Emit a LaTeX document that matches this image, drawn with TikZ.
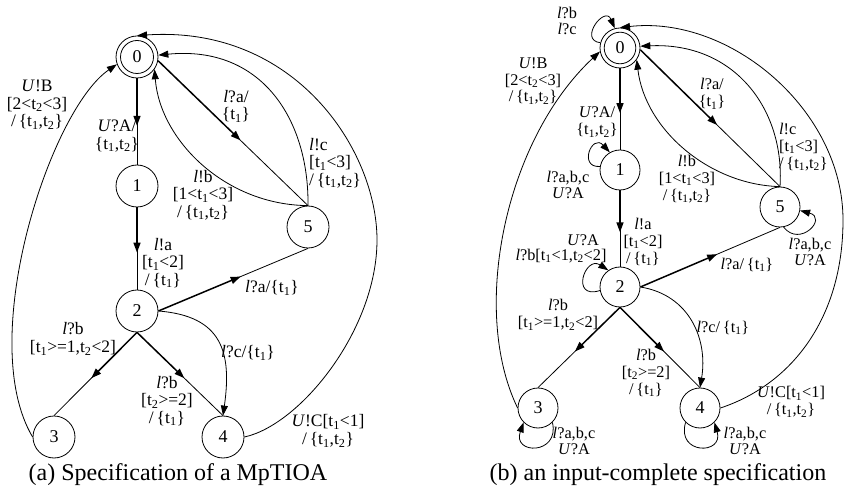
\documentclass[tikz,border=0pt]{standalone}
\usepackage{fontspec}
\setmainfont{Liberation Serif}
\usetikzlibrary{arrows.meta,calc}
\newcommand\sbs[1]{\textsubscript{#1}}
\newcommand\midedge[2]{\draw[tk] (#1) -- ($(#1)!0.55!(#2)$); \draw[ln] ($(#1)!0.5!(#2)$) -- (#2);}
\begin{document}
\begin{tikzpicture}[x=1pt,y=-1pt,
  st/.style={circle,draw,line width=0.8pt,minimum size=42pt,inner sep=0pt,font=\fontsize{18}{18}\selectfont},
  str/.style={st,minimum size=40pt},
  lab/.style={align=center,font=\fontsize{17.5}{17.5}\selectfont,inner sep=0pt},
  labr/.style={align=center,font=\fontsize{16.3}{16.8}\selectfont,inner sep=0pt},
  captxt/.style={font=\fontsize{24}{24}\selectfont,inner sep=0pt},
  ln/.style={line width=0.8pt},
  tk/.style={line width=1.5pt,-{Triangle[length=10pt,width=7pt]}},
  arr/.style={line width=0.8pt,-{Triangle[length=10pt,width=7pt]}}]
\useasboundingbox (0,0) rectangle (846,494);
\fill[white] (0,0) rectangle (846,494);
% ---------- left diagram ----------
\node[st] (a0) at (137,57) {0};
\draw[line width=0.8pt] (a0.center) circle (16.5pt);
\node[st] (a1) at (137,186) {1};
\node[st] (a2) at (137,311) {2};
\node[st] (a3) at (54,437) {3};
\node[st] (a4) at (223,437) {4};
\node[st] (a5) at (308,227) {5};
\midedge{a0.south}{a1.north}
\midedge{a1.south}{a2.north}
\midedge{a2.east}{a5.south}
\midedge{a0.-10}{a5.north}
\midedge{a2.south}{a3.north}
\midedge{a2.south}{a4.north}
\draw[arr] (a2.east) .. controls (222,316) and (232,352) .. (a4.north);
\draw[arr] (a5.north) .. controls (225,205) and (160,140) .. (a0.-35);
\draw[arr] (a5.north) .. controls (309,120) and (262,45) .. (a0.5);
\draw[arr] (a4.east) .. controls (300,425) and (377,330) .. (377,240) .. controls (377,150) and (295,25) .. (a0.north);
\draw[arr] (a3.west) .. controls (-25,340) and (50,110) .. (a0.200);
\node[lab] (la1) at (37,105) {\textit{U}!B\\{[}2<t\sbs2<3{]}\\/\,\{t\sbs1,t\sbs2\}};
\node[lab] (la2) at (117,136) {\textit{U}?A/\\\{t\sbs1,t\sbs2\}};
\node[lab] (la3) at (236,106) {\textit{l}?a/\\\{t\sbs1\}};
\node[lab] (la4) at (203,195) {\textit{l}!b\\{[}1<t\sbs1<3{]}\\/\,\{t\sbs1,t\sbs2\}};
\node[lab] (la5) at (163,263) {\textit{l}!a\\{[}t\sbs1<2{]}\\/\,\{t\sbs1\}};
\node[lab] (la6) at (272,288) {\textit{l}?a/\{t\sbs1\}};
\node[lab,align=left,anchor=west] (la7) at (309,163) {\textit{l}!c\\{[}t\sbs1<3{]}\\/\,\{t\sbs1,t\sbs2\}};
\node[lab] (la8) at (73,339) {\textit{l}?b\\{[}t\sbs1>=1,t\sbs2<2{]}};
\node[lab] (la9) at (167,401) {\textit{l}?b\\{[}t\sbs2>=2{]}\\/\,\{t\sbs1\}};
\node[lab] (la10) at (248,353) {\textit{l}?c/\{t\sbs1\}};
\node[lab] (la11) at (328,431) {\textit{U}!C{[}t\sbs1<1{]}\\/\,\{t\sbs1,t\sbs2\}};
\node[captxt] (capa) at (178,475) {(a) Specification of a MpTIOA};
% ---------- right diagram ----------
\node[str] (b0) at (620,48) {0};
\draw[line width=0.8pt] (b0.center) circle (15.8pt);
\node[str] (b1) at (620,170) {1};
\node[str] (b2) at (620,287) {2};
\node[str] (b3) at (538,408) {3};
\node[str] (b4) at (700,408) {4};
\node[str] (b5) at (780,207) {5};
\midedge{b0.south}{b1.north}
\midedge{b1.south}{b2.north}
\midedge{b2.east}{b5.south}
\midedge{b0.-5}{b5.north}
\midedge{b2.south}{b3.north}
\midedge{b2.south}{b4.north}
\draw[arr] (b2.east) .. controls (690,295) and (708,340) .. (b4.north);
\draw[arr] (b5.north) .. controls (710,185) and (645,130) .. (b0.-35);
\draw[arr] (b5.north) .. controls (785,110) and (735,42) .. (b0.5);
\draw[arr] (b4.east) .. controls (790,385) and (843,320) .. (843,220) .. controls (843,110) and (730,15) .. (b0.north);
\draw[arr] (b3.west) .. controls (470,310) and (505,140) .. (b0.190);
% self loops
\draw[arr] (b0.165) .. controls (578,40) and (605,5) .. (b0.105);
\draw[arr] (b1.170) .. controls (578,168) and (592,133) .. (b1.120);
\draw[arr] (b2.190) .. controls (570,300) and (585,255) .. (b2.125);
\draw[arr] (b3.-45) .. controls (560,455) and (512,455) .. (b3.-135);
\draw[arr] (b4.-135) .. controls (676,455) and (724,455) .. (b4.-45);
\draw[arr] (b5.-80) .. controls (800,248) and (828,218) .. (b5.-10);
\node[labr] (lb0) at (567,21) {\textit{l}?b\\\textit{l}?c};
\node[labr] (lb1) at (533,81) {\textit{U}!B\\{[}2<t\sbs2<3{]}\\/\,\{t\sbs1,t\sbs2\}};
\node[labr] (lb2) at (597,122) {\textit{U}?A/\\\{t\sbs1,t\sbs2\}};
\node[labr] (lb3) at (712,94) {\textit{l}?a/\\\{t\sbs1\}};
\node[labr,align=left,anchor=west] (lb4) at (779,147) {\textit{l}!c\\{[}t\sbs1<3{]}\\/\,\{t\sbs1,t\sbs2\}};
\node[labr] (lb5) at (687,179) {\textit{l}!b\\{[}1<t\sbs1<3{]}\\/\,\{t\sbs1,t\sbs2\}};
\node[labr] (lb6) at (568,185) {\textit{l}?a,b,c\\\textit{U}?A};
\node[labr] (lb7) at (643,242) {\textit{l}!a\\{[}t\sbs1<2{]}\\/\,\{t\sbs1\}};
\node[labr] (lb8a) at (583,240) {\textit{U}?A};
\node[labr] (lb8b) at (561,256) {\textit{l}?b{[}t\sbs1<1,t\sbs2<2{]}};
\node[labr] (lb9) at (747,265) {\textit{l}?a/\,\{t\sbs1\}};
\node[labr] (lb10) at (810,252) {\textit{l}?a,b,c\\\textit{U}?A};
\node[labr] (lb11) at (558,315) {\textit{l}?b\\{[}t\sbs1>=1,t\sbs2<2{]}};
\node[labr] (lb12) at (646,373) {\textit{l}?b\\{[}t\sbs2>=2{]}\\/\,\{t\sbs1\}};
\node[labr] (lb13) at (723,328) {\textit{l}?c/\,\{t\sbs1\}};
\node[labr] (lb14) at (791,402) {\textit{U}!C{[}t\sbs1<1{]}\\/\,\{t\sbs1,t\sbs2\}};
\node[labr] (lb15) at (574,441) {\textit{l}?a,b,c\\\textit{U}?A};
\node[labr] (lb16) at (745,441) {\textit{l}?a,b,c\\\textit{U}?A};
\node[captxt] (capb) at (658,475) {(b) an input-complete specification};
\end{tikzpicture}
\end{document}
